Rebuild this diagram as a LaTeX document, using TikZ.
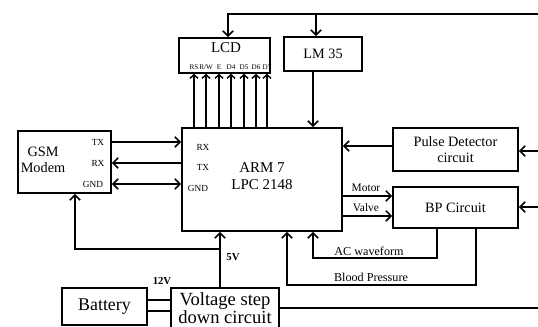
\documentclass[tikz,border=0pt]{standalone}
\usepackage{fontspec}
\setmainfont{Liberation Serif}
\usetikzlibrary{positioning,arrows.meta}
\tikzset{
  blk/.style={draw,line width=1.1pt,inner sep=0pt,align=center},
  arr/.style={line width=1.1pt,-{Straight Barb[length=1.3mm,width=2.6mm]}},
  darr/.style={line width=1.1pt,{Straight Barb[length=1.3mm,width=2.6mm]}-{Straight Barb[length=1.3mm,width=2.6mm]}},
  parr/.style={line width=1pt,-{Straight Barb[length=0.9mm,width=2mm]}},
  wire/.style={line width=1.1pt},
  pinl/.style={inner sep=0pt,font=\fontsize{5}{5}\selectfont},
  sig/.style={inner sep=0pt,font=\fontsize{6.5}{6.5}\selectfont},
  txt/.style={inner sep=0pt,align=center,font=\fontsize{10.5}{11.5}\selectfont}
}
\begin{document}
\begin{tikzpicture}[x=0.7pt,y=-0.7pt]
\useasboundingbox (0,0) rectangle (538,327);
% blocks
\node[blk,minimum width=91*0.7pt,minimum height=35*0.7pt] (lcd) at (224.5,55.5) {};
\node[txt] (lcdt) at (226,48) {LCD};
\node[blk,minimum width=78*0.7pt,minimum height=34*0.7pt,font=\fontsize{10}{11}\selectfont] (lm) at (323,54) {LM 35};
\node[blk,minimum width=160*0.7pt,minimum height=103*0.7pt] (arm) at (262,179.5) {};
\node[txt] (armt) at (262,176) {ARM 7\\LPC 2148};
\node[blk,minimum width=93*0.7pt,minimum height=62*0.7pt] (gsm) at (64.5,162) {};
\node[txt,font=\fontsize{10}{11}\selectfont] (gsmt) at (43,160) {GSM\\Modem};
\node[blk,minimum width=125*0.7pt,minimum height=43*0.7pt,font=\fontsize{10}{11}\selectfont] (pd) at (455.5,149.5) {Pulse Detector\\circuit};
\node[blk,minimum width=125*0.7pt,minimum height=41*0.7pt,font=\fontsize{10}{11}\selectfont] (bp) at (455.5,207.5) {BP Circuit};
\node[blk,minimum width=85*0.7pt,minimum height=37*0.7pt,font=\fontsize{12.5}{13}\selectfont] (bat) at (104.5,306.5) {Battery};
\node[blk,minimum width=108*0.7pt,minimum height=52*0.7pt,anchor=north] (vsd) at (225,287) {};
\node[inner sep=0pt,align=center,font=\fontsize{13}{13}\selectfont] (vsdt) at (225,308) {Voltage step\\down circuit};
% pin labels
\node[sig] (gtx) at (98,142) {TX};
\node[sig] (grx) at (98,163) {RX};
\node[sig] (ggnd) at (93,184) {GND};
\node[sig] (arx) at (203,147) {RX};
\node[sig] (atx) at (203,167) {TX};
\node[sig] (agnd) at (198,188) {GND};
% lcd data lines
\foreach \px/\pin in {194/RS,206/{R/W},219/E,231/D4,244/D5,256/D6,267/D7}{
  \node[pinl] (p\px) at (\px,67) {\pin};
  \draw[parr] (arm.north -| p\px) -- (lcd.south -| p\px);
}
% gsm link
\draw[arr] (gsm.east |- gtx) -- (arm.west |- gtx);
\draw[arr] (arm.west |- grx) -- (gsm.east |- grx);
\draw[darr] (gsm.east |- ggnd) -- (arm.west |- ggnd);
% supply
\coordinate (tr) at (538,14);
\coordinate (tl) at (228,14);
\coordinate (lmt) at (316,14);
\coordinate (lmd) at (313,100);
\draw[arr] (tr) -- (tl) -- (lcd.north -| tl);
\draw[arr] (lmt) -- (lm.north -| lmt);
\draw[arr] (lm.south -| lmd) -- (arm.north -| lmd);
\coordinate (pw) at (220,249);
\coordinate (gp) at (75,249);
\draw[arr] (vsd.north -| pw) -- (pw) -- (arm.south -| pw);
\draw[arr] (pw) -- (gp) -- (gsm.south -| gp);
\node[sig,font=\bfseries\fontsize{7.5}{7.5}\selectfont] (v5) at (233,257) {5V};
\node[sig,font=\bfseries\fontsize{7.5}{7.5}\selectfont] (v12) at (162,281) {12V};
\draw[wire] (bat.east |- 0,300) -- (vsd.west |- 0,300);
\draw[wire] (bat.east |- 0,311) -- (vsd.west |- 0,311);
\coordinate (br) at (538,308);
\draw[wire] (vsd.east |- br) -- (br);
% sensors
\coordinate (pdin) at (538,151);
\coordinate (bpin) at (538,207);
\draw[arr] (pdin) -- (pd.east |- pdin);
\draw[arr] (bpin) -- (bp.east |- bpin);
\draw[arr] (pd.west |- 0,146) -- (arm.east |- 0,146);
\node[sig,font=\fontsize{8}{8}\selectfont] (mot) at (366,188) {Motor};
\node[sig,font=\fontsize{8}{8}\selectfont] (val) at (366,208) {Valve};
\draw[arr] (arm.east |- 0,196) -- (bp.west |- 0,196);
\draw[arr] (arm.east |- 0,216) -- (bp.west |- 0,216);
\coordinate (ac1) at (437,258);
\coordinate (ac2) at (313,258);
\draw[arr] (bp.south -| ac1) -- (ac1) -- (ac2) -- (arm.south -| ac2);
\node[sig,font=\fontsize{8.5}{8.5}\selectfont] (act) at (369,251) {AC waveform};
\coordinate (bl1) at (476,285);
\coordinate (bl2) at (287,285);
\draw[arr] (bp.south -| bl1) -- (bl1) -- (bl2) -- (arm.south -| bl2);
\node[sig,font=\fontsize{8.5}{8.5}\selectfont] (blt) at (371,277) {Blood Pressure};
\end{tikzpicture}
\end{document}
